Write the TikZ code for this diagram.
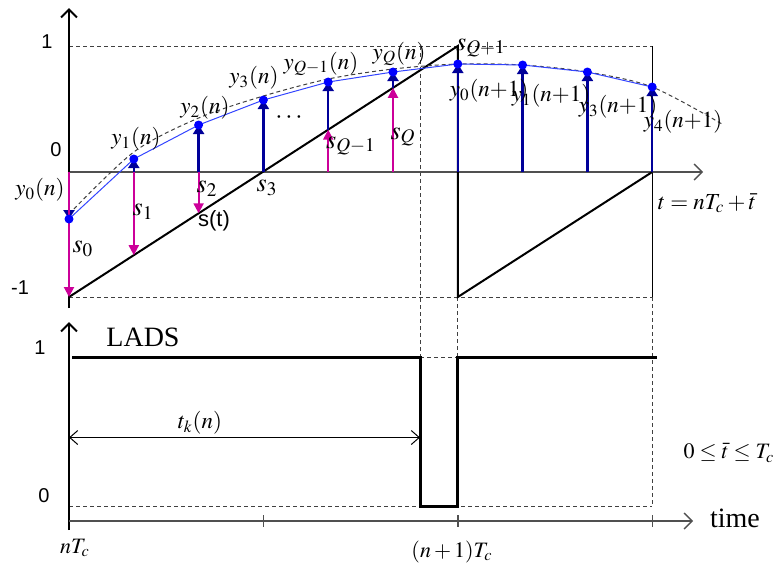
\documentclass[tikz,border=0pt]{standalone}
\usepackage{mathptmx}
\usepackage[no-math]{fontspec}
\setmainfont{Liberation Serif}
\newfontfamily\arialfont{Liberation Sans}
\usetikzlibrary{arrows.meta,calc}
\definecolor{ink}{HTML}{000000}
\definecolor{axgray}{HTML}{505050}
\definecolor{guidegray}{HTML}{404040}
\definecolor{sampmag}{HTML}{CC0099}
\definecolor{sampnavy}{HTML}{000099}
\definecolor{dotblue}{HTML}{0000FF}
\definecolor{curveblue}{HTML}{3344FF}
\tikzset{
  mainaxis/.style={line width=1pt,draw=ink,-{Straight Barb[length=4pt,width=8pt]}},
  timeaxis/.style={line width=0.7pt,draw=axgray,-{Straight Barb[length=4pt,width=8pt]}},
  guide/.style={line width=0.5pt,draw=guidegray,dash pattern=on 2pt off 1.5pt},
  saw/.style={line width=1pt,draw=ink},
  lads/.style={line width=1.5pt,draw=ink},
  magarr/.style={-{Triangle[length=5pt,width=5pt]},line width=1pt,draw=sampmag},
  navyarr/.style={-{Triangle[length=4.5pt,width=5.5pt]},line width=1.2pt,draw=sampnavy},
  sdot/.style={circle,fill=dotblue,inner sep=0pt,minimum size=4.5pt},
  lbl/.style={font=\fontsize{13}{15}\selectfont,inner sep=0pt},
  ylbl/.style={font=\fontsize{11.5}{13}\selectfont,inner sep=0pt},
  tlbl/.style={font=\fontsize{11}{13}\selectfont,inner sep=0pt},
  num/.style={font=\arialfont\fontsize{10}{12}\selectfont,inner sep=0pt},
  txt/.style={font=\fontsize{14}{16}\selectfont,inner sep=0pt}
}

\begin{document}
\begin{tikzpicture}[x=0.5pt,y=-0.5pt]
  \useasboundingbox (0,0) rectangle (774,563);

  % sample instants: axis point, output y_k and ramp value s_k
  \foreach \k/\yv in {0/219,1/159,2/125,3/100,4/82,5/72,6/64,7/65,8/72,9/87}{
    \coordinate (a\k) at ({69+64.8*\k},172);
    \coordinate (p\k) at ({69+64.8*\k},\yv);
  }
  \foreach \k/\sv in {0/297,1/255.2,2/213.3,4/129.7,5/87.8}{
    \coordinate (s\k) at ({69+64.8*\k},\sv);
  }

  % guide lines
  \draw[guide] (69,46) -- (652.2,46);
  \draw[guide] (69,297) -- (652.2,297);
  \draw[guide] (420,46) -- (420,357);
  \draw[guide] (457.8,297) -- (457.8,357);
  \draw[guide] (652.2,297) -- (652.2,506);
  \draw[guide] (420,357) -- (457.8,357);
  \draw[guide] (69,506) -- (652.2,506);
  \draw[line width=0.5pt] (652.2,46) -- (652.2,297);

  % upper plot
  \draw[mainaxis,draw=axgray,line width=0.7pt] (69,172) -- (703,172);
  \draw[mainaxis] (69,308) -- (69,8);
  \draw[saw] (69,297) -- (457.8,46) -- (457.8,297) -- (652.2,172);
  \draw[guide] plot[smooth] coordinates {(69,214) (133.8,152) (198.6,118)
    (263.4,96) (328.2,79) (393,69) (457.8,64) (522.6,65) (587.4,72)
    (652.2,87) (722,124)};
  \draw[curveblue,line width=0.5pt] (p0) -- (p1) -- (p2) -- (p3) -- (p4)
    -- (p5) -- (p6) -- (p7) -- (p8) -- (p9);

  \draw[navyarr] (a0) -- (p0);
  \draw[magarr] (a0) -- (s0);
  \foreach \k in {1,2,3,6,7,8,9} \draw[navyarr] (a\k) -- (p\k);
  \foreach \k in {1,2} \draw[magarr] (a\k) -- (s\k);
  \foreach \k in {4,5}{
    \draw[navyarr] (s\k) -- (p\k);
    \draw[magarr] (a\k) -- (s\k);
  }
  \foreach \k in {0,...,9} \node[sdot] (d\k) at (p\k) {};

  \node[num] (up1) at (47,42) {1};
  \node[num] (up0) at (56,150) {0};
  \node[num] (upm1) at (20,288) {-1};

  \node[ylbl] (ly0) at (40,190) {$y_0(n)$};
  \node[ylbl] (ly1) at (136,139) {$y_1(n)$};
  \node[ylbl] (ly2) at (205,108) {$y_2(n)$};
  \node[ylbl] (ly3) at (254,78) {$y_3(n)$};
  \node[ylbl] (lyq1) at (321,64) {$y_{Q-1}(n)$};
  \node[ylbl] (lyq) at (399,54) {$y_Q(n)$};
  \node[ylbl] (lz0) at (489,91) {$y_0(n{+}1)$};
  \node[ylbl] (lz1) at (551,96) {$y_1(n{+}1)$};
  \node[ylbl] (lz3) at (618,107) {$y_3(n{+}1)$};
  \node[ylbl] (lz4) at (683,122) {$y_4(n{+}1)$};
  \node[lbl] (ls0) at (83,249) {$s_0$};
  \node[lbl] (ls1) at (143,212) {$s_1$};
  \node[lbl] (ls2) at (207,189) {$s_2$};
  \node[lbl] (ls3) at (267,188) {$s_3$};
  \node[lbl] (lsq1) at (351,146) {$s_{Q-1}$};
  \node[lbl] (lsq) at (403,137) {$s_Q$};
  \node[lbl] (lsq2) at (481,48) {$s_{Q+1}$};
  \node[lbl] (dots) at (289,118) {$\cdots$};
  \node[font=\arialfont\fontsize{11}{13}\selectfont,inner sep=0pt] (st) at (214,221) {s(t)};
  \node[ylbl] (tdef) at (707,203) {$t=nT_c+\bar{t}$};

  % lower plot
  \draw[mainaxis] (69,530) -- (69,322);
  \draw[timeaxis] (69,521) -- (693,521);
  \foreach \x in {263.4,457.8,652.2}
    \draw[axgray,line width=0.7pt] (\x,515) -- (\x,527);
  \draw[lads] (72,357) -- (420,357) -- (420,506) -- (457.8,506) -- (457.8,357) -- (657,357);
  \coordinate (tk0) at (69,437.5);
  \coordinate (tk1) at (420,437.5);
  \draw[line width=0.5pt,{Straight Barb[length=4pt,width=7pt]}-{Straight Barb[length=4pt,width=7pt]}] (tk0) -- (tk1);

  \node[num] (lo1) at (40,348) {1};
  \node[num] (lo0) at (44,496) {0};
  \node[txt] (lads) at (143,337) {LADS};
  \node[ylbl] (tkn) at (200,423) {$t_k(n)$};
  \node[tlbl] (tbar) at (729,453) {$0\leq\bar{t}\leq T_c$};
  \node[txt] (time) at (735,518) {time};
  \node[tlbl] (ntc) at (75,548) {$nT_c$};
  \node[tlbl] (n1tc) at (452,552) {$(n+1)T_c$};
\end{tikzpicture}
\end{document}
